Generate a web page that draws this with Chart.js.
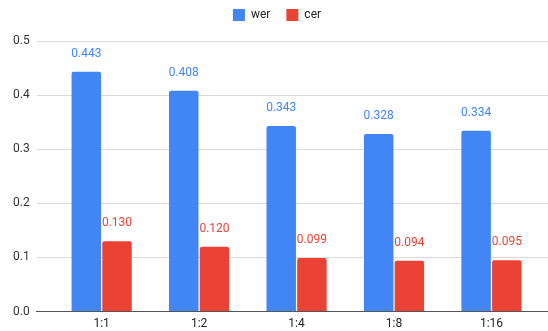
<!DOCTYPE html>
<html>
<head>
<meta charset="utf-8">
<script src="https://cdn.jsdelivr.net/npm/chart.js"></script>
<style>
    body { margin: 0; background: #fff; }
</style>
</head>
<body>
<canvas id="ratioChart" width="548" height="331"></canvas>
<script>
// Data
const categories = ['1:1', '1:2', '1:4', '1:8', '1:16'];
const werValues = [0.443, 0.408, 0.343, 0.328, 0.334];
const cerValues = [0.130, 0.120, 0.099, 0.094, 0.095];
const yTicks = [0, 0.1, 0.2, 0.3, 0.4, 0.5];

const blue = '#4285F4';
const red = '#EA4335';

Chart.defaults.font.family = 'Roboto, "Liberation Sans", Arial, sans-serif';
Chart.defaults.font.size = 12;

// Helper: turn an array of values into {x, y} points (x = category index)
function toPoints(values) {
    return values.map((v, i) => ({ x: i, y: v }));
}

// Small plugin that writes the value above each bar, in the bar's colour
const barValueLabels = {
    id: 'barValueLabels',
    afterDatasetsDraw(chart) {
        const ctx = chart.ctx;
        ctx.save();
        ctx.font = '12px ' + Chart.defaults.font.family;
        ctx.textAlign = 'center';
        ctx.textBaseline = 'alphabetic';
        chart.data.datasets.forEach((ds, di) => {
            const meta = chart.getDatasetMeta(di);
            ctx.fillStyle = ds.backgroundColor;
            meta.data.forEach((bar, i) => {
                ctx.fillText(ds.data[i].y.toFixed(3), bar.x, bar.y - 15);
            });
        });
        ctx.restore();
    }
};

// Leave some extra room under the legend
const legendGap = {
    id: 'legendGap',
    beforeInit(chart) {
        const origFit = chart.legend.fit;
        chart.legend.fit = function () {
            origFit.call(this);
            this.height += 10;
        };
    }
};

const ctx = document.getElementById('ratioChart').getContext('2d');
new Chart(ctx, {
    type: 'bar',
    data: {
        datasets: [{
            label: 'wer',
            data: toPoints(werValues),
            backgroundColor: blue,
            borderRadius: { topLeft: 2, topRight: 2 },
            borderSkipped: 'start'
        }, {
            label: 'cer',
            data: toPoints(cerValues),
            backgroundColor: red,
            borderRadius: { topLeft: 2, topRight: 2 },
            borderSkipped: 'start'
        }]
    },
    options: {
        responsive: false,
        animation: false,
        categoryPercentage: 0.63,
        barPercentage: 0.96,
        layout: {
            padding: { left: 6, right: 0, top: -7, bottom: -5 }
        },
        plugins: {
            legend: {
                position: 'top',
                labels: {
                    boxWidth: 12,
                    boxHeight: 12,
                    padding: 16,
                    color: '#222',
                    font: { size: 12 }
                }
            },
            tooltip: { enabled: false }
        },
        scales: {
            x: {
                type: 'linear',
                offset: false,
                min: -0.667,
                max: 4.58,
                afterBuildTicks: (scale) => {
                    scale.ticks = categories.map((c, i) => ({ value: i }));
                },
                ticks: {
                    callback: (v) => categories[v],
                    color: '#222',
                    padding: 5,
                    maxRotation: 0,
                    autoSkip: false
                },
                grid: { display: false, drawTicks: false },
                border: { display: true, color: '#555', width: 1 }
            },
            y: {
                min: 0,
                max: 0.5,
                afterBuildTicks: (scale) => {
                    scale.ticks = yTicks.map(v => ({ value: v }));
                },
                ticks: {
                    callback: (v) => v.toFixed(1),
                    color: '#333',
                    padding: 7
                },
                grid: { color: '#dadada', drawTicks: false },
                border: { display: false }
            }
        }
    },
    plugins: [barValueLabels, legendGap]
});
</script>
</body>
</html>
